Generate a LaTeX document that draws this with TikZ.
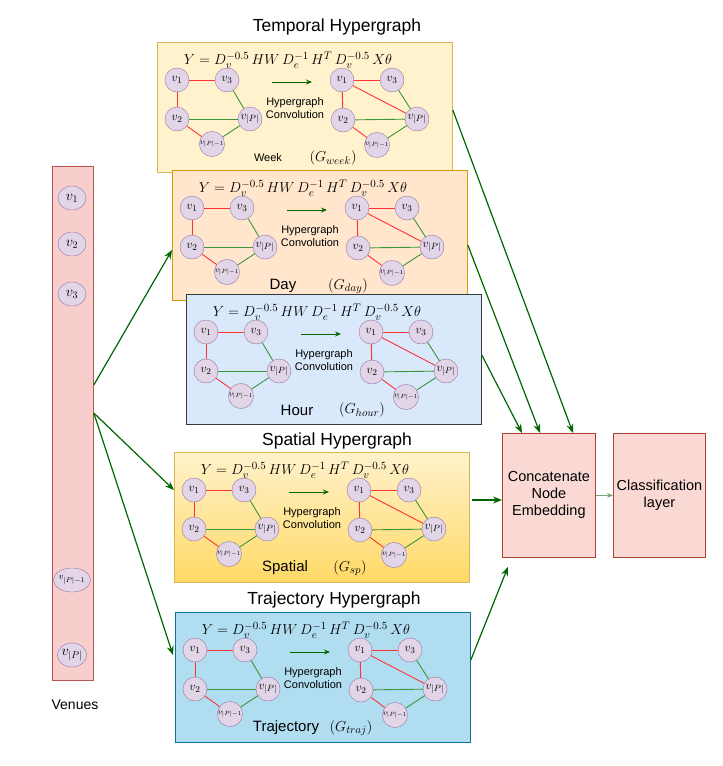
\documentclass[tikz,border=0pt]{standalone}
\usepackage{fontspec}
\newfontfamily\arialfont{Liberation Sans}
\usetikzlibrary{calc,shapes.geometric,arrows.meta}

\definecolor{vtxfill}{HTML}{E1D5E7}
\definecolor{vtxline}{HTML}{9673A6}
\definecolor{edgered}{HTML}{FF3333}
\definecolor{edgegreen}{HTML}{3A963A}
\definecolor{arrowgreen}{HTML}{006600}
\definecolor{weekfill}{HTML}{FFF2CC}
\definecolor{weekline}{HTML}{D6B656}
\definecolor{dayfill}{HTML}{FFE6CC}
\definecolor{dayline}{HTML}{D79B00}
\definecolor{hourfill}{HTML}{DAE8FC}
\definecolor{hourline}{HTML}{36393D}
\definecolor{sptop}{HTML}{FFF2CC}
\definecolor{spbot}{HTML}{FFD966}
\definecolor{trajfill}{HTML}{B1DDF0}
\definecolor{trajline}{HTML}{10739E}
\definecolor{venfill}{HTML}{F8CECC}
\definecolor{venline}{HTML}{B85450}
\definecolor{boxfill}{HTML}{FAD9D5}
\definecolor{boxline}{HTML}{AE4132}

\def\pw{295}
\def\ph{130}

\tikzset{
  panel/.style={draw, line width=0.8pt, minimum width=\pw pt, minimum height=\ph pt, anchor=north west, inner sep=0pt},
  vtx/.style={circle, draw=vtxline, fill=vtxfill, minimum size=24pt, inner sep=0pt, font=\fontsize{13}{13}\selectfont},
  vtxsm/.style={vtx, font=\fontsize{8.5}{9}\selectfont},
  vnode/.style={ellipse, draw=vtxline, fill=vtxfill, minimum width=28pt, minimum height=24pt, inner sep=0pt, font=\fontsize{14}{14}\selectfont},
  vnodesm/.style={vnode, font=\fontsize{9.5}{10}\selectfont},
  redge/.style={draw=edgered, line width=0.9pt},
  gedge/.style={draw=edgegreen, line width=0.9pt},
  flow/.style={color=arrowgreen, line width=1.2pt, -{Stealth[length=9pt,width=7pt]}},
  box/.style={draw=boxline, fill=boxfill, line width=0.8pt, minimum width=93pt, minimum height=124pt, anchor=north west, align=center, font=\arialfont\fontsize{14.5}{17}\selectfont},
  title/.style={font=\arialfont\fontsize{17.5}{20}\selectfont},
  conv/.style={align=center, font=\arialfont\fontsize{11}{12.5}\selectfont},
  formula/.style={font=\fontsize{15.5}{17}\selectfont},
  glabel/.style={font=\fontsize{15}{17}\selectfont},
}

% one hypergraph panel: name, x, y, colours, label, graph name
\newcommand{\hgpanel}[6]{%
  \node[panel,#4] (#1) at (#2,#3) {};
  \begin{scope}[shift={(#1.north west)}]
    \node[formula] (#1f) at (131,18) {$Y = D_v^{-0.5}\,HW\,D_e^{-1}\,H^T\,D_v^{-0.5}\,X\theta$};
    % before
    \node[vtx] (#1a1) at (20,38) {$v_1$};
    \node[vtx] (#1a3) at (70,38) {$v_3$};
    \node[vtx] (#1a2) at (20,77) {$v_2$};
    \node[vtx] (#1ap) at (93,77) {$v_{|P|}$};
    \node[vtxsm] (#1aq) at (55,102) {$v_{|P|-1}$};
    \draw[redge] (#1a1) -- (#1a3);
    \draw[redge] (#1a1) -- (#1a2);
    \draw[redge] (#1a2) -- (#1aq);
    \draw[gedge] (#1a3) -- (#1ap);
    \draw[gedge] (#1a2) -- (#1ap);
    \draw[gedge] (#1aq) -- (#1ap);
    % after
    \node[vtx] (#1b1) at (185,38) {$v_1$};
    \node[vtx] (#1b3) at (235,38) {$v_3$};
    \node[vtx] (#1b2) at (186,78) {$v_2$};
    \node[vtx] (#1bp) at (260,77) {$v_{|P|}$};
    \node[vtxsm] (#1bq) at (220,103) {$v_{|P|-1}$};
    \draw[redge] (#1b1) -- (#1b3);
    \draw[redge] (#1b1) -- (#1b2);
    \draw[redge] (#1b1) -- (#1bp);
    \draw[redge] (#1b2) -- (#1bq);
    \draw[gedge] (#1b3) -- (#1bp);
    \draw[gedge] (#1b2) -- (#1bp);
    \draw[gedge] (#1bq) -- (#1bp);
    % convolution
    \coordinate (#1c0) at (115,40);
    \coordinate (#1c1) at (155,40);
    \draw[color=arrowgreen, line width=1pt, -{Stealth[length=6pt,width=5pt]}] (#1c0) -- (#1c1);
    \node[conv] (#1ct) at (138,66) {Hypergraph\\Convolution};
    \node (#1lb) at (111,116) {#5};
    \node[glabel] (#1gl) at (176,116) {#6};
  \end{scope}
}

\begin{document}
\begin{tikzpicture}[x=1pt,y=-1pt]
  \useasboundingbox (0,0) rectangle (723,766);

  %%%%% venues %%%%%
  \node[draw=venline, fill=venfill, line width=0.8pt, minimum width=41pt, minimum height=514pt, anchor=north west, inner sep=0pt] (venues) at (52,166) {};
  \node[vnode] (p1) at (72,198) {$v_1$};
  \node[vnode] (p2) at (72,244) {$v_2$};
  \node[vnode] (p3) at (72,294) {$v_3$};
  \node[vnodesm] (pq) at (72,580) {$v_{|P|-1}$};
  \node[vnode] (pp) at (72,655) {$v_{|P|}$};
  \node[font=\arialfont\fontsize{14}{16}\selectfont] (venlbl) at (75,705) {Venues};

  %%%%% panels %%%%%
  \node[title] (ttemp) at (337,27) {Temporal Hypergraph};
  \hgpanel{week}{157}{42}{fill=weekfill, draw=weekline}{\arialfont\fontsize{11}{13}\selectfont Week}{$(G_{week})$}
  \hgpanel{day}{172}{170}{fill=dayfill, draw=dayline}{\arialfont\fontsize{15}{17}\selectfont Day}{$(G_{day})$}
  \hgpanel{hour}{186}{294}{fill=hourfill, draw=hourline}{\arialfont\fontsize{15}{17}\selectfont Hour}{$(G_{hour})$}

  \node[title] (tspat) at (337,441) {Spatial Hypergraph};
  \hgpanel{spatial}{174}{452}{top color=sptop, bottom color=spbot, draw=weekline}{\arialfont\fontsize{15}{17}\selectfont Spatial}{$(G_{sp})$}

  \node[title] (ttraj) at (334,600) {Trajectory Hypergraph};
  \hgpanel{traj}{175}{612}{fill=trajfill, draw=trajline}{\arialfont\fontsize{15}{17}\selectfont Trajectory}{$(G_{traj})$}

  %%%%% output %%%%%
  \node[box] (concat) at (502,433) {Concatenate\\Node\\Embedding};
  \node[box, minimum width=90pt] (class) at (613,433) {Classification\\layer};

  %%%%% arrows %%%%%
  \coordinate (vo1) at ($(venues.north east)+(0,219)$);
  \coordinate (vo2) at ($(venues.north east)+(0,247)$);
  \draw[flow] (vo1) -- ($(day.north west)+(0,80)$);
  \draw[flow] (vo2) -- ($(spatial.north west)+(0,38)$);
  \draw[flow] (vo2) -- ($(traj.north west)+(-2,43)$);

  \draw[flow] ($(week.north east)+(0,68)$) -- ($(concat.north west)+(71,0)$);
  \draw[flow] ($(day.north east)+(0,75)$) -- ($(concat.north west)+(38,0)$);
  \draw[flow] ($(hour.north east)+(0,61)$) -- ($(concat.north west)+(20,0)$);
  \coordinate (spout) at ($(spatial.north east)+(2,48)$);
  \draw[flow] (spout) -- (spout -| concat.west);
  \draw[flow] ($(traj.north east)+(0,48)$) -- ($(concat.south west)+(6,9)$);
  \draw[color=arrowgreen!55, line width=1pt, -{Stealth[length=6pt,width=5pt]}] (concat.east) -- (class.west);
\end{tikzpicture}
\end{document}
